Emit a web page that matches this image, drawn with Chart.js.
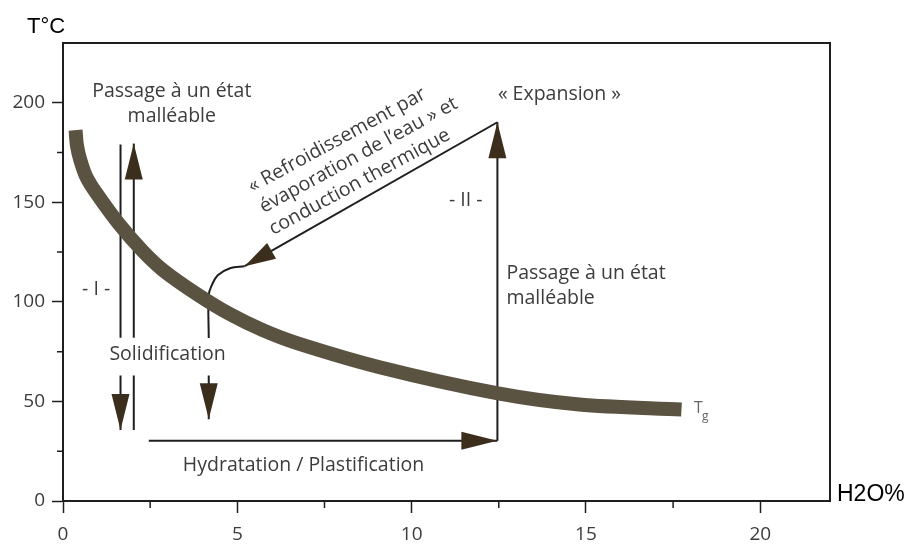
<!DOCTYPE html>
<html lang="fr">
<head>
<meta charset="utf-8">
<title>Tg en fonction de la teneur en eau</title>
<script src="https://cdn.jsdelivr.net/npm/chart.js@4/dist/chart.umd.min.js"></script>
<style>
  html, body { margin: 0; padding: 0; background: #fff; }
  #chart { display: block; }
</style>
</head>
<body>
<canvas id="chart" width="912" height="544"></canvas>
<script>
// Courbe Tg : température de transition vitreuse selon la teneur en eau (%)
const tgWater = [0.36, 0.40, 0.49, 0.66, 0.94, 1.61, 2.29, 2.87, 3.84, 4.79, 5.73, 6.71, 9.08, 12.44, 14.81, 17.74];
const tgTemp  = [186.2, 178.6, 171.6, 163.1, 155.0, 139.0, 125.4, 115.9, 103.9, 93.8, 85.8, 79.3, 67.2, 54.2, 48.5, 45.9];

const xTicks = [0, 5, 10, 15, 20];
const xMinorTicks = [2.5, 7.5, 12.5, 17.5];
const yTicks = [0, 50, 100, 150, 200];
const yMinorTicks = [25, 75, 125, 175];

// Segments des flèches : [eau0, T0, eau1, T1] — la pointe est en (eau1, T1)
const arrowSegments = [
  [1.65, 179, 1.65, 82],
  [1.65, 63, 1.65, 35.6],
  [2.03, 82, 2.03, 179.5],
  [2.03, 63, 2.03, 35.6],
  [2.46, 30.3, 12.46, 30.3],
  [12.46, 30.3, 12.46, 190.2],
  [12.46, 190.2, 5.21, 117.9],
  [4.18, 63, 4.18, 41.1],
];
const arrowHasHead = [false, true, true, false, true, true, true, true];

// Raccord courbé entre la flèche de refroidissement et la verticale
const bendWater = [5.21, 4.79, 4.44, 4.27, 4.18, 4.18];
const bendTemp  = [117.9, 116.9, 113.4, 108.4, 103.4, 81.8];

const INK = '#1e1e1e';
const TEXT = '#3c3c3c';
const CURVE = '#5b5342';
const HEAD = '#3b2e1c';
const FONT = '"Open Sans", "DejaVu Sans", sans-serif';

// Textes du schéma, ancrés en coordonnées de données
const notes = [
  { text: 'Passage à un état', x: 3.12, y: 202.7, align: 'center' },
  { text: 'malléable', x: 3.12, y: 190.2, align: 'center' },
  { text: '« Refroidissement par', x: 7.86, y: 181.1, align: 'center', baseline: 'middle', rot: -28.5 },
  { text: 'évaporation de l\u2019eau » et', x: 8.48, y: 173.6, align: 'center', baseline: 'middle', rot: -28.5 },
  { text: 'conduction thermique', x: 8.51, y: 160.2, align: 'center', baseline: 'middle', rot: -28.5 },
  { text: '« Expansion »', x: 14.24, y: 201.2, align: 'center' },
  { text: '- II -', x: 11.55, y: 151, align: 'center', baseline: 'middle' },
  { text: 'Passage à un état', x: 12.72, y: 111.4, align: 'left' },
  { text: 'malléable', x: 12.72, y: 98.8, align: 'left' },
  { text: '- I -', x: 0.95, y: 106, align: 'center', baseline: 'middle' },
  { text: 'Solidification', x: 3.0, y: 70.7, align: 'center' },
  { text: 'Hydratation / Plastification', x: 6.9, y: 15, align: 'center' },
  { text: 'T', x: 18.1, y: 44.2, align: 'left', size: 16, color: '#666' },
  { text: 'g', x: 18.33, y: 40.6, align: 'left', size: 12, color: '#666' },
];

const segmentDatasets = arrowSegments.map((s) => ({
  data: [{ x: s[0], y: s[1] }, { x: s[2], y: s[3] }],
  borderColor: INK,
  borderWidth: 2,
  showLine: true,
}));

const figureOverlay = {
  id: 'figureOverlay',
  beforeDraw(chart) {
    const { ctx, width, height } = chart;
    ctx.save();
    ctx.fillStyle = '#fff';
    ctx.fillRect(0, 0, width, height);
    ctx.restore();
  },
  afterDraw(chart) {
    const { ctx, chartArea: a, scales: { x, y } } = chart;
    ctx.save();

    // cadre haut et droit
    ctx.strokeStyle = INK;
    ctx.lineWidth = 2;
    ctx.beginPath();
    ctx.moveTo(a.left, a.top);
    ctx.lineTo(a.right, a.top);
    ctx.lineTo(a.right, a.bottom);
    ctx.stroke();

    // graduations secondaires
    ctx.lineWidth = 1.5;
    ctx.beginPath();
    xMinorTicks.forEach((v) => {
      const px = x.getPixelForValue(v);
      ctx.moveTo(px, a.bottom);
      ctx.lineTo(px, a.bottom + 7);
    });
    yMinorTicks.forEach((v) => {
      const py = y.getPixelForValue(v);
      ctx.moveTo(a.left, py);
      ctx.lineTo(a.left - 6, py);
    });
    ctx.stroke();

    // pointes de flèches
    ctx.fillStyle = HEAD;
    arrowSegments.forEach((s, i) => {
      if (!arrowHasHead[i]) return;
      const x0 = x.getPixelForValue(s[0]);
      const y0 = y.getPixelForValue(s[1]);
      const x1 = x.getPixelForValue(s[2]);
      const y1 = y.getPixelForValue(s[3]);
      const ang = Math.atan2(y1 - y0, x1 - x0);
      const len = i === 6 ? 31 : 36;
      const half = 9;
      const bx = x1 - len * Math.cos(ang);
      const by = y1 - len * Math.sin(ang);
      ctx.beginPath();
      ctx.moveTo(x1, y1);
      ctx.lineTo(bx + half * Math.sin(ang), by - half * Math.cos(ang));
      ctx.lineTo(bx - half * Math.sin(ang), by + half * Math.cos(ang));
      ctx.closePath();
      ctx.fill();
    });

    // annotations
    notes.forEach((n) => {
      ctx.save();
      ctx.fillStyle = n.color || TEXT;
      ctx.font = `${n.size || 19.5}px ${FONT}`;
      ctx.translate(x.getPixelForValue(n.x), y.getPixelForValue(n.y));
      if (n.rot) ctx.rotate(n.rot * Math.PI / 180);
      ctx.textAlign = n.align;
      ctx.textBaseline = n.baseline || 'alphabetic';
      ctx.fillText(n.text, 0, 0);
      ctx.restore();
    });

    // titres d'axes
    ctx.fillStyle = '#000';
    ctx.textAlign = 'left';
    ctx.textBaseline = 'alphabetic';
    ctx.font = '22px "Liberation Sans", Arial, sans-serif';
    ctx.fillText('T°C', a.left - 36, a.top - 10);
    ctx.font = '23px "Liberation Sans", Arial, sans-serif';
    ctx.fillText('H2O%', a.right + 7, a.bottom);

    ctx.restore();
  },
};

new Chart(document.getElementById('chart'), {
  type: 'scatter',
  data: {
    datasets: [
      {
        label: 'Tg',
        data: tgWater.map((w, i) => ({ x: w, y: tgTemp[i] })),
        borderColor: CURVE,
        borderWidth: 14,
        borderCapStyle: 'butt',
        showLine: true,
        tension: 0.3,
      },
      {
        data: bendWater.map((w, i) => ({ x: w, y: bendTemp[i] })),
        borderColor: INK,
        borderWidth: 2,
        showLine: true,
        tension: 0.4,
      },
      ...segmentDatasets,
    ],
  },
  options: {
    responsive: false,
    animation: false,
    events: [],
    layout: { padding: { top: 43, right: 82, left: 0, bottom: 0 } },
    elements: { point: { radius: 0, hoverRadius: 0 } },
    plugins: { legend: { display: false }, tooltip: { enabled: false } },
    scales: {
      x: {
        type: 'linear',
        min: 0,
        max: 22,
        afterFit: (s) => { s.height = 43; },
        afterBuildTicks: (s) => { s.ticks = xTicks.map((v) => ({ value: v })); },
        border: { display: true, color: INK, width: 2 },
        grid: { drawOnChartArea: false, drawTicks: true, tickLength: 12, tickColor: INK, tickWidth: 1.5 },
        ticks: { color: TEXT, font: { family: FONT, size: 19 }, padding: 10, maxRotation: 0 },
      },
      y: {
        type: 'linear',
        min: 0,
        max: 230,
        afterFit: (s) => { s.width = 63; },
        afterBuildTicks: (s) => { s.ticks = yTicks.map((v) => ({ value: v })); },
        border: { display: true, color: INK, width: 2 },
        grid: { drawOnChartArea: false, drawTicks: true, tickLength: 11, tickColor: INK, tickWidth: 1.5 },
        ticks: { color: TEXT, font: { family: FONT, size: 19 }, padding: 7 },
      },
    },
  },
  plugins: [figureOverlay],
});
</script>
</body>
</html>
